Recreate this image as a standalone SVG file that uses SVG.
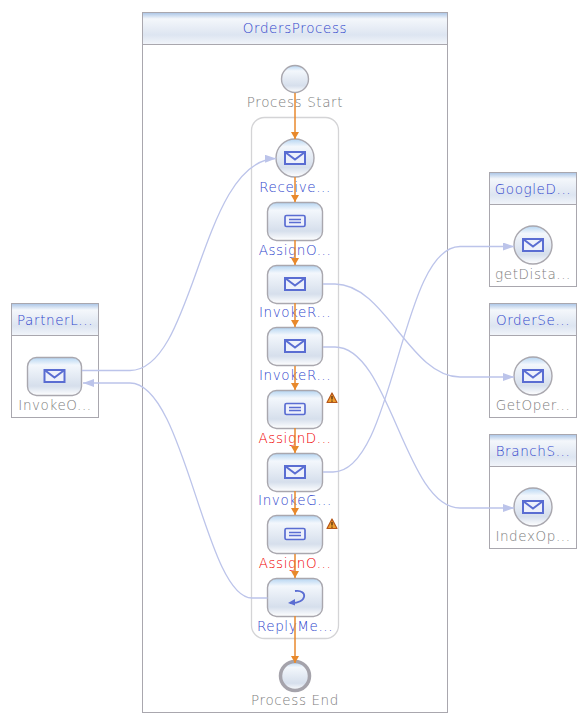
<svg xmlns="http://www.w3.org/2000/svg" width="587" height="725" viewBox="0 0 587 725">
<defs>
<linearGradient id="hdr" x1="0" y1="0" x2="0" y2="1"><stop offset="0" stop-color="#a9c4e6"/><stop offset="0.2" stop-color="#f4f7fb"/><stop offset="0.7" stop-color="#dde5f1"/><stop offset="1" stop-color="#f2f5fa"/></linearGradient>
<linearGradient id="nd" x1="0" y1="0" x2="0" y2="1"><stop offset="0" stop-color="#b5d5f2"/><stop offset="0.2" stop-color="#f3f7fc"/><stop offset="0.75" stop-color="#d6dfec"/><stop offset="1" stop-color="#ffffff"/></linearGradient>
<marker id="ao" markerUnits="userSpaceOnUse" markerWidth="9" markerHeight="9" refX="7" refY="4" orient="auto"><path d="M0 0L7 4L0 8z" fill="#e8892c"/></marker>
<marker id="ab" markerUnits="userSpaceOnUse" markerWidth="12" markerHeight="10" refX="11" refY="4" orient="auto"><path d="M0 0L11 4L0 8z" fill="#bcc4ea"/></marker>
<g id="env"><rect x="-10" y="-6" width="20" height="12" fill="#eef1fb" stroke="#5a6dd2" stroke-width="2"/><path d="M-10 -6L0 1.500L10 -6" fill="none" stroke="#5a6dd2" stroke-width="2"/></g>
<g id="doc"><rect x="-10" y="-5.500" width="20" height="11" rx="1.500" fill="#eef1fb" stroke="#5a6dd2" stroke-width="1.700"/><path d="M-6 -1.500H6M-6 1.500H6" stroke="#5a6dd2" stroke-width="1.300"/></g>
<g id="warn"><path d="M0 -5L5 4.500H-5z" fill="#f0a030" stroke="#b5561a" stroke-width="1.200" stroke-linejoin="round"/><path d="M0 -2V1.500M0 2.600V3.800" stroke="#4a2408" stroke-width="1.200"/></g>
</defs>
<style>
text{font-family:"DejaVu Sans","Liberation Sans",sans-serif;font-weight:200;font-size:13.5px;letter-spacing:.6px;text-anchor:middle}
.b{fill:#2f45cc}.g{fill:#7c7c7c}.r{fill:#f00000}
.box{fill:#fff;stroke:#a9a7ae;stroke-width:1}
.h{fill:url(#hdr);stroke:#a9a7ae;stroke-width:1}
.n{fill:url(#nd);stroke:#a9a7ae;stroke-width:1.400}
.o{stroke:#e8892c;stroke-width:1.500;fill:none;marker-end:url(#ao)}
.m{stroke:#bcc4ea;stroke-width:1.300;fill:none;marker-end:url(#ab)}
</style>
<g id="OrdersProcess">
<rect class="box" x="142.500" y="12.500" width="305" height="700"/>
<rect class="h" x="142.500" y="12.500" width="305" height="32"/>
<text class="b" x="295" y="33">OrdersProcess</text>
<rect x="251.500" y="117.500" width="87" height="521" rx="13" fill="none" stroke="#d4d4d6" stroke-width="1.300"/>
</g>
<g id="PartnerL">
<rect class="box" x="11.500" y="303.500" width="87" height="114"/>
<rect class="h" x="11.500" y="303.500" width="87" height="32"/>
<text class="b" x="55" y="325">PartnerL...</text>
</g>
<g id="GoogleD">
<rect class="box" x="489.500" y="172.500" width="87" height="114"/>
<rect class="h" x="489.500" y="172.500" width="87" height="32"/>
<text class="b" x="533" y="194">GoogleD...</text>
</g>
<g id="OrderSe">
<rect class="box" x="489.500" y="303.500" width="87" height="114"/>
<rect class="h" x="489.500" y="303.500" width="87" height="32"/>
<text class="b" x="533" y="325">OrderSe...</text>
</g>
<g id="BranchS">
<rect class="box" x="489.500" y="434.500" width="87" height="114"/>
<rect class="h" x="489.500" y="434.500" width="87" height="32"/>
<text class="b" x="533" y="456">BranchS...</text>
</g>
<g id="ProcessStart"><circle class="n" cx="295" cy="79" r="13.500"/><text class="g" x="295" y="107">Process Start</text></g>
<g id="Receive"><circle class="n" cx="295" cy="158" r="19"/><use href="#env" x="295" y="158"/><text class="b" x="295" y="192">Receive...</text></g>
<g id="AssignO1"><rect class="n" x="267.500" y="202.500" width="55" height="38" rx="9"/><use href="#doc" x="295" y="221"/><text class="b" x="295" y="255">AssignO...</text></g>
<g id="InvokeR1"><rect class="n" x="267.500" y="265.500" width="55" height="38" rx="9"/><use href="#env" x="295" y="284"/><text class="b" x="295" y="317">InvokeR...</text></g>
<g id="InvokeR2"><rect class="n" x="267.500" y="327.500" width="55" height="38" rx="9"/><use href="#env" x="295" y="346"/><text class="b" x="295" y="380">InvokeR...</text></g>
<g id="AssignD"><rect class="n" x="267.500" y="390.500" width="55" height="38" rx="9"/><use href="#doc" x="295" y="409"/><use href="#warn" x="332" y="398"/><text class="r" x="295" y="443">AssignD...</text></g>
<g id="InvokeG"><rect class="n" x="267.500" y="453.500" width="55" height="38" rx="9"/><use href="#env" x="295" y="472"/><text class="b" x="295" y="505">InvokeG...</text></g>
<g id="AssignO2"><rect class="n" x="267.500" y="515.500" width="55" height="38" rx="9"/><use href="#doc" x="295" y="534"/><use href="#warn" x="332" y="524"/><text class="r" x="295" y="568">AssignO...</text></g>
<g id="ReplyMe"><rect class="n" x="267.500" y="578.500" width="55" height="38" rx="9"/><path d="M295 591C308 589 308 604 290 603" fill="none" stroke="#5a6dd2" stroke-width="1.800"/><path d="M295 599L288 603L295 605.500z" fill="#5a6dd2"/><text class="b" x="295" y="631">ReplyMe...</text></g>
<g id="ProcessEnd"><circle cx="295" cy="676" r="14.500" fill="url(#nd)" stroke="#a5a3ab" stroke-width="3.500"/><text class="g" x="295" y="705">Process End</text></g>
<g id="InvokeOp"><rect class="n" x="27.500" y="357.500" width="54" height="38" rx="9"/><use href="#env" x="54.500" y="376"/><text class="g" x="55" y="410">InvokeO...</text></g>
<g id="getDista"><circle class="n" cx="533" cy="245" r="19"/><use href="#env" x="533" y="245"/><text class="g" x="533" y="279">getDista...</text></g>
<g id="GetOper"><circle class="n" cx="533" cy="376" r="19"/><use href="#env" x="533" y="376"/><text class="g" x="533" y="410">GetOper...</text></g>
<g id="IndexOp"><circle class="n" cx="533" cy="507" r="19"/><use href="#env" x="533" y="507"/><text class="g" x="533" y="541">IndexOp...</text></g>
<g id="connectors">
<path class="o" d="M295 93V139"/>
<path class="o" d="M295 177V202"/>
<path class="o" d="M295 240V265"/>
<path class="o" d="M295 303V327"/>
<path class="o" d="M295 366V390"/>
<path class="o" d="M295 428V453"/>
<path class="o" d="M295 491V515"/>
<path class="o" d="M295 554V578"/>
<path class="o" d="M295 616V663"/>
<path class="m" d="M82 370.500H130C195 370.500 200 160 276 158.500"/>
<path class="m" d="M267.500 598H252C205 598 185 383 130 383H83"/>
<path class="m" d="M323 284H335C385 284 410 377 460 377H514"/>
<path class="m" d="M323 347H335C390 347 405 508 460 508H514"/>
<path class="m" d="M323 472H333C395 472 400 246.500 460 246.500H514"/>
</g>
</svg>
